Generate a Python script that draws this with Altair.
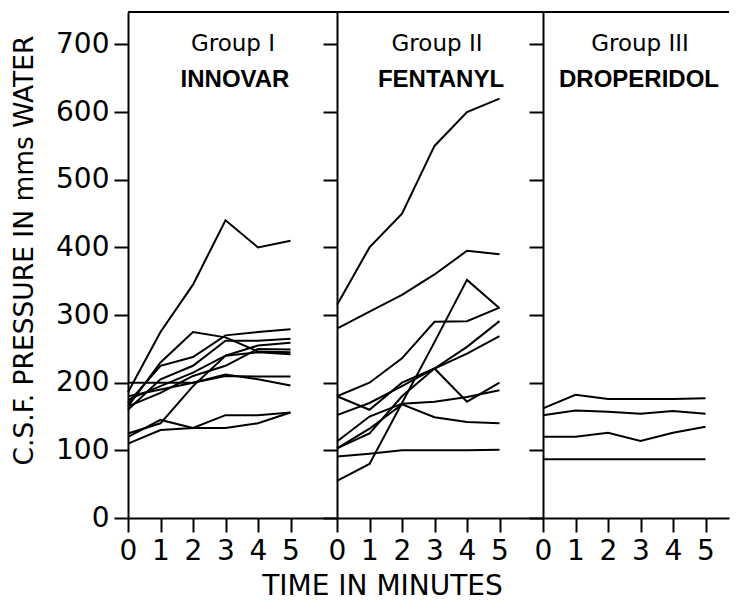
import altair as alt
import pandas as pd

TIME = [0, 1, 2, 3, 4, 5]
Y_TICKS = [0, 100, 200, 300, 400, 500, 600, 700]

GROUP_I = [
    [186, 275, 345, 440, 400, 410],
    [165, 230, 275, 267, 246, 245],
    [170, 225, 238, 270, 275, 279],
    [160, 205, 225, 262, 262, 265],
    [175, 195, 215, 240, 255, 259],
    [165, 185, 210, 225, 250, 249],
    [200, 200, 200, 210, 209, 209],
    [180, 190, 200, 212, 205, 196],
    [125, 140, 195, 240, 245, 242],
    [120, 145, 133, 152, 152, 156],
    [110, 130, 133, 133, 140, 156],
]

GROUP_II = [
    [315, 400, 450, 550, 600, 620],
    [280, 305, 330, 360, 395, 390],
    [55, 80, 170, 260, 352, 310],
    [180, 200, 236, 290, 291, 311],
    [180, 160, 200, 221, 172, 200],
    [152, 170, 195, 221, 253, 291],
    [103, 125, 180, 221, 243, 269],
    [113, 150, 169, 172, 179, 189],
    [103, 132, 168, 149, 142, 140],
    [91, 95, 100, 100, 100, 101],
]

GROUP_III = [
    [162, 182, 176, 176, 176, 177],
    [152, 159, 157, 154, 158, 154],
    [120, 120, 126, 114, 126, 135],
    [87, 87, 87, 87, 87, 87],
]

GROUP_NAMES = ["Group I", "Group II", "Group III"]
DRUG_NAMES = ["INNOVAR", "FENTANYL", "DROPERIDOL"]

Y_TITLE = "C.S.F. PRESSURE IN mms WATER"
X_TITLE = "TIME IN MINUTES"

H = 506
Y_MAX = 748
PX_PER_MIN = 32.5


def to_long(lines):
    rows = []
    for i, vals in enumerate(lines):
        for t, v in zip(TIME, vals):
            rows.append({"subject": i, "time": t, "pressure": v})
    return pd.DataFrame(rows)


def panel(lines, width, idx, tx_group, tx_drug):
    df = to_long(lines)
    x_kwargs = dict(
        values=TIME, tickSize=14, tickWidth=2, domainWidth=2,
        labelFontSize=28, labelFont="DejaVu Sans", labelPadding=5,
        labelBaseline="top", labelColor="black", tickColor="black",
        domainColor="black", grid=False, labelFlush=False,
    )
    if idx == 1:
        x_axis = alt.Axis(
            title=X_TITLE, titleFont="DejaVu Sans", titleFontSize=28,
            titleFontWeight="normal", titleColor="black",
            titleX=45, titleY=76, titleAlign="center",
            titleBaseline="alphabetic", **x_kwargs)
    else:
        x_axis = alt.Axis(title=None, **x_kwargs)

    y_kwargs = dict(
        values=Y_TICKS, tickSize=14, tickWidth=2, domainWidth=2,
        tickColor="black", domainColor="black", grid=False,
    )
    if idx == 0:
        y_axis = alt.Axis(
            title=Y_TITLE, titleFont="DejaVu Sans", titleFontSize=26.5,
            titleFontWeight="normal", titleColor="black",
            titleX=-104, titleY=238, titleAngle=270, titleAlign="center",
            titleBaseline="middle",
            labelFontSize=28, labelFont="DejaVu Sans", labelPadding=5,
            labelColor="black", labelFlush=False, **y_kwargs)
    else:
        y_axis = alt.Axis(title=None, labels=False, **y_kwargs)

    lines_chart = alt.Chart(df).mark_line(color="black", strokeWidth=2).encode(
        x=alt.X("time:Q", scale=alt.Scale(domain=[0, width / PX_PER_MIN], nice=False, zero=False), axis=x_axis),
        y=alt.Y("pressure:Q", scale=alt.Scale(domain=[0, Y_MAX], nice=False), axis=y_axis),
        detail="subject:N",
    )
    one = pd.DataFrame({"g": [GROUP_NAMES[idx]], "d": [DRUG_NAMES[idx]]})
    top = alt.Chart(one).mark_rule(color="black", strokeWidth=2).encode(
        x=alt.value(0), x2=alt.value(width), y=alt.value(0))
    t1 = alt.Chart(one).mark_text(font="DejaVu Sans", fontSize=23, color="black",
                                  align="center", baseline="alphabetic").encode(
        x=alt.value(tx_group), y=alt.value(39), text="g:N")
    t2 = alt.Chart(one).mark_text(font="Liberation Sans", fontSize=24, fontWeight="bold",
                                  color="black", align="center", baseline="alphabetic").encode(
        x=alt.value(tx_drug), y=alt.value(75), text="d:N")
    return alt.layer(lines_chart, top, t1, t2).properties(width=width, height=H)


p1 = panel(GROUP_I, 209, 0, 105, 107)
p2 = panel(GROUP_II, 206, 1, 100, 104)
p3 = panel(GROUP_III, 186, 2, 97, 96)

chart = alt.hconcat(p1, p2, p3, spacing=0, bounds="flush").configure_view(
    stroke=None
).properties(
    padding={"left": 2, "top": 3, "right": 0, "bottom": 0},
    background="white",
)

chart.save("out.html", embed_options={"renderer": "svg", "actions": False})
